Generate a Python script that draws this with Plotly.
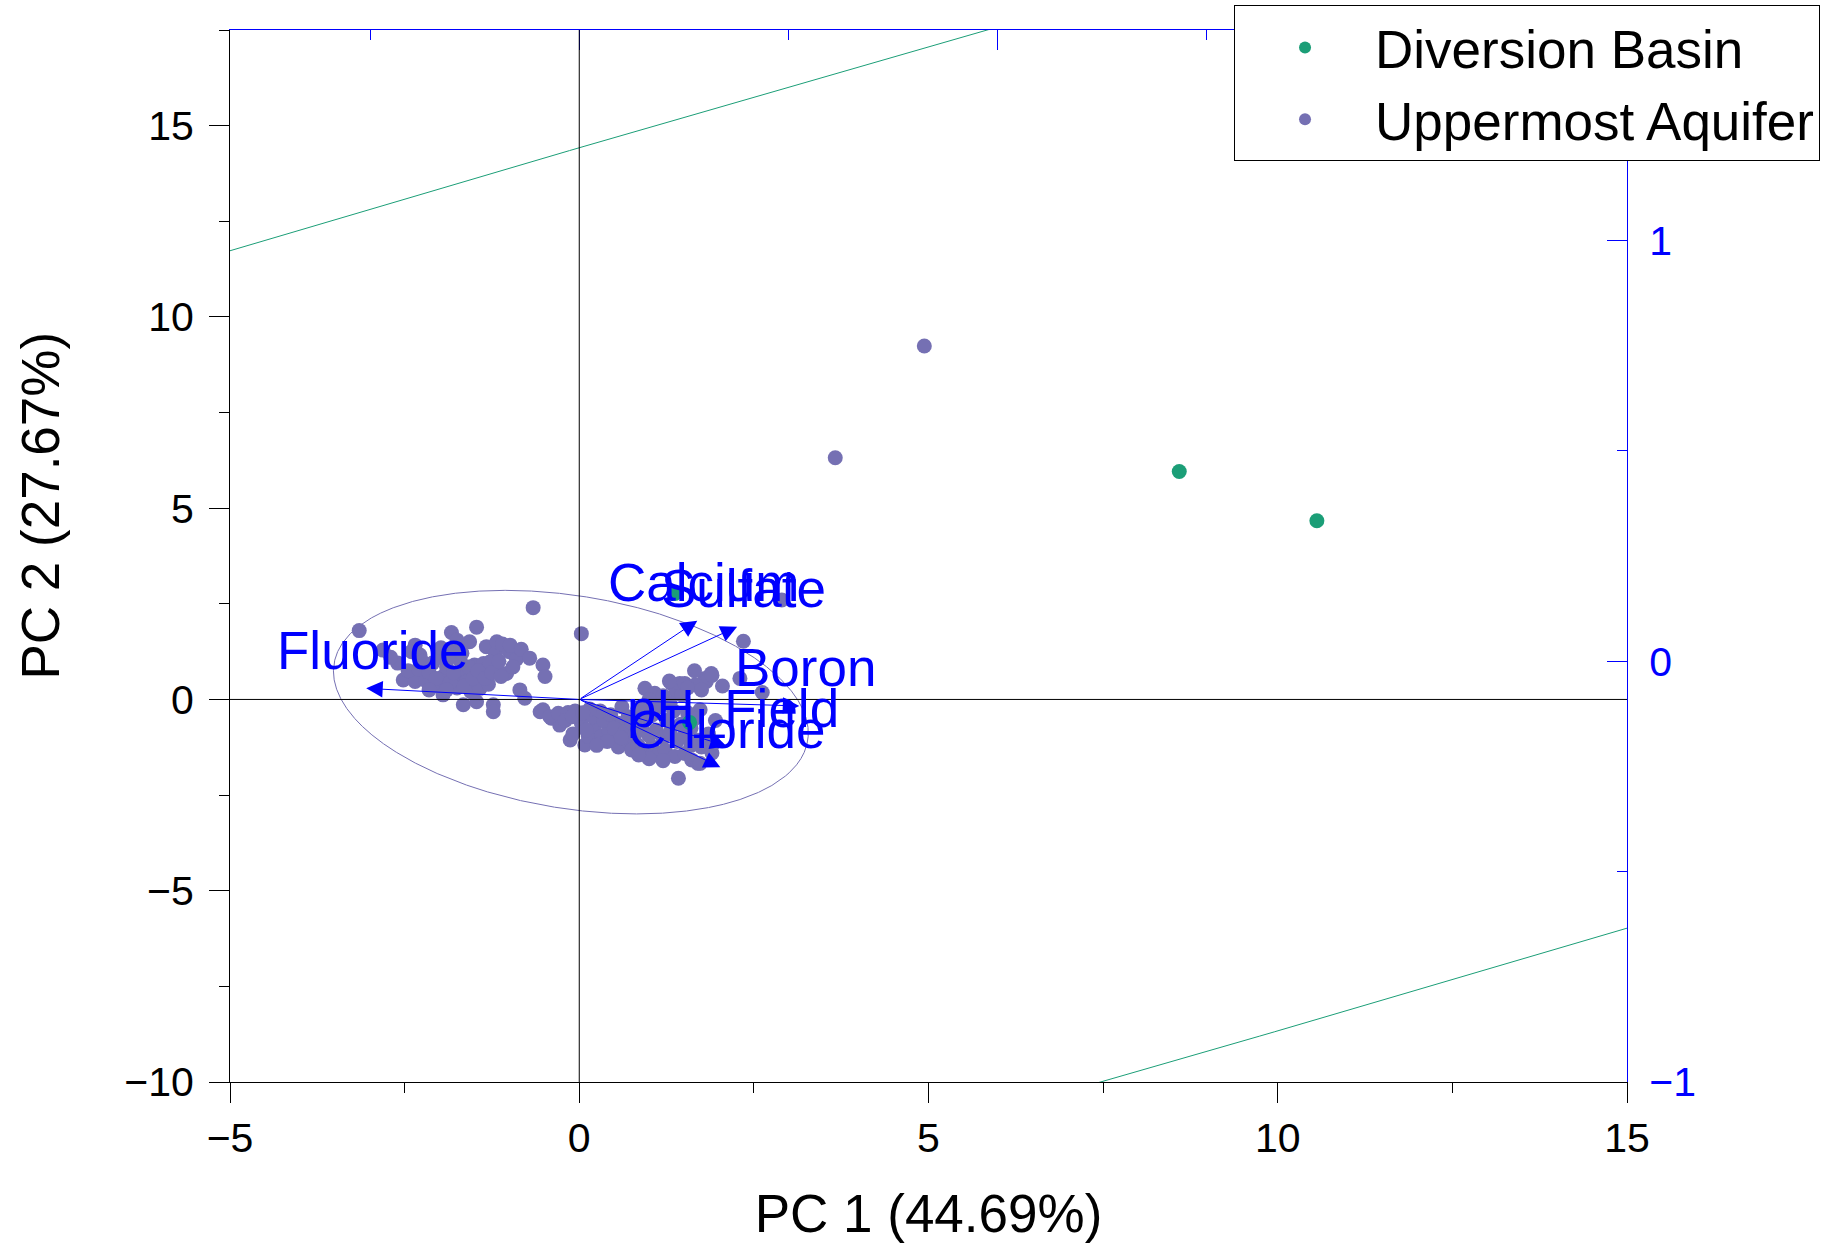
import numpy as np
import plotly.graph_objects as go

# --- scores (PC1, PC2) per group ---
diversion_pc1 = [1.37, 1.58, 8.59, 10.56]
diversion_pc2 = [2.77, -0.60, 5.96, 4.67]

uppermost_pc1 = [
    4.94, 3.665, 2.90, 2.35, 0.03, -0.66, -3.15, 1.42,
    # fluoride side
    -2.81, -2.52, -2.35, -2.35, -2.28, -2.20, -2.10, -2.04, -2.00, -1.95,
    -1.95, -1.90, -1.83, -1.80, -1.76, -1.75, -1.70, -1.68, -1.66, -1.62,
    -1.61, -1.57, -1.55, -1.50, -1.47, -1.47, -1.42, -1.40, -1.37, -1.33,
    -1.30, -1.23, -1.23, -1.20, -1.18, -1.18, -1.10, -1.04, -1.00, -0.99,
    -0.90, -0.85, -0.83, -0.78, -0.71, -0.52, -0.52, -0.49, -0.40, -0.28,
    -2.60, -2.45, -2.30, -2.25, -2.15, -2.05, -1.85, -1.80, -1.88, -1.65,
    -1.58, -1.52, -1.45, -1.35, -1.28, -1.25, -1.15, -1.12, -0.95, -2.70,
    -2.40, -1.98, -1.75, -2.15, -1.90,
    # central band
    -0.56, -0.42, -0.30, -0.16, -0.06, -0.13, -0.09, 0.03, 0.08, 0.13,
    0.22, 0.32, 0.42, 0.51, 0.56, 0.56, 0.61, 0.70, 0.70, 0.75,
    0.84, 0.84, 0.94, 0.94, 0.94, 1.04, 1.08, 1.13, 1.23, 1.32,
    1.39, 1.37, 1.51, 1.61, 1.70, 1.75, 1.80, 1.89, 1.82, 1.44,
    1.47, 1.73, 1.54, 1.68, 1.75, 1.73, 1.92, 1.51, 1.66, 1.75,
    2.30, 2.62, 1.90, 1.29,
    0.20, 0.35, 0.45, 0.30, 0.15, 0.50, 0.65, 0.80, 0.90, 1.00,
    1.10, 1.20, 1.30, 1.40, 1.50, 1.60, 1.25, 1.05, 1.15, 1.35,
    1.55, 0.75, 0.60, 0.40, 0.25, 1.00, 1.20, 0.85, 1.60, 1.45,
    1.65, 1.85, 1.90, 0.10, -0.20, -0.10, 0.05, 1.95, 2.05, 1.55,
    1.65, 1.20, 1.00, 0.95, 1.30,
]
uppermost_pc2 = [
    9.24, 6.32, 2.60, 1.52, 1.72, 2.40, 1.80, -2.06,
    # fluoride side
    1.29, 0.51, 0.47, 1.42, 1.16, 0.50, 0.95, 0.38, 1.10, 0.12,
    0.60, 0.85, 1.75, 1.30, 0.60, 0.30, 1.00, 1.21, -0.14, 0.75,
    0.47, 1.51, 0.20, 0.90, 1.89, -0.06, 0.29, 0.60, 0.94, 1.38,
    0.40, -0.14, -0.32, 1.20, 1.51, 0.81, 1.45, 0.68, 1.25, 1.42,
    1.05, 0.25, 1.31, 0.03, 1.08, 0.90, -0.27, 0.60, -0.49, -0.67,
    0.95, 0.75, 0.80, 1.00, 0.70, 0.55, 0.45, 0.70, 1.05, 0.35,
    0.85, 0.55, 0.75, 0.55, 0.98, 0.70, 1.00, 0.60, 0.85, 1.10,
    1.25, 1.35, 1.55, 0.25, 0.25,
    # central band
    -0.32, -0.45, -0.36, -0.34, -0.30, -1.06, -0.90, -0.62, -1.19, -0.97,
    -0.71, -0.97, -0.80, -0.97, -1.24, -0.62, -0.19, -1.10, -0.45, -1.32,
    -1.19, -0.23, -1.36, -0.54, 0.29, -1.23, 0.16, -1.45, -1.32, 0.42,
    0.20, -1.49, -1.41, -1.58, -1.67, -1.23, 0.55, 0.68, 0.47, 0.42,
    0.12, -0.27, -0.97, -1.06, -1.24, -1.67, -1.15, 0.42, 0.38, 0.25,
    0.55, 0.18, 0.63, 0.48,
    -0.45, -0.55, -0.40, -0.30, -0.25, -0.75, -0.85, -0.90, -0.75, -0.95,
    -0.80, -1.00, -0.85, -1.10, -0.95, -1.20, -0.55, -0.40, -0.20, -0.30,
    -0.35, -0.60, -1.00, -1.10, -1.20, -1.55, -1.60, -1.45, -0.75, -0.65,
    -0.50, -0.90, -1.40, -0.80, -0.55, -0.45, -0.35, -0.55, 0.35, 0.30,
    0.75, 0.10, 0.00, -0.15, -0.10,
]

# --- variable loadings (arrow tips, score units) ---
variables = ["Fluoride", "Calcium", "Sulfate", "Boron", "pH_Field", "Chloride"]
load_pc1 = [-3.05, 1.69, 2.26, 3.15, 2.11, 2.02]
load_pc2 = [0.29, 2.06, 1.90, -0.17, -1.22, -1.77]

# --- normal-theory ellipses: centre, semi-axes, rotation (deg) ---
ell_uppermost = dict(cx=-0.12, cy=-0.07, a=3.63, b=2.63, angle=-30.6)
ell_diversion = dict(cx=5.53, cy=3.16, a=150.0, b=12.54, angle=27.95)

GREEN = "#1B9E77"
PURPLE = "#7570B3"
BLUE = "#0000FF"
FONT = "Liberation Sans, Arial, sans-serif"


def ellipse_xy(cx, cy, a, b, angle, n=4001):
    t = np.linspace(0, 2 * np.pi, n)
    th = np.deg2rad(angle)
    x = cx + a * np.cos(t) * np.cos(th) - b * np.sin(t) * np.sin(th)
    y = cy + a * np.cos(t) * np.sin(th) + b * np.sin(t) * np.cos(th)
    return x, y


fig = go.Figure()

for ell, col in ((ell_diversion, GREEN), (ell_uppermost, PURPLE)):
    ex, ey = ellipse_xy(**ell)
    fig.add_trace(go.Scatter(x=ex, y=ey, mode="lines",
                             line=dict(color=col, width=1),
                             showlegend=False, hoverinfo="skip"))

fig.add_trace(go.Scatter(x=uppermost_pc1, y=uppermost_pc2, mode="markers",
                         name="Uppermost Aquifer", legendrank=2,
                         marker=dict(color=PURPLE, size=15, line=dict(width=0))))
fig.add_trace(go.Scatter(x=diversion_pc1, y=diversion_pc2, mode="markers",
                         name="Diversion Basin", legendrank=1,
                         marker=dict(color=GREEN, size=15, line=dict(width=0))))

# secondary (loading-scale) axes: top and right
fig.add_trace(go.Scatter(x=[None], y=[None], xaxis="x2", yaxis="y2",
                         showlegend=False, hoverinfo="skip"))

# loading arrows and their labels
for name, lx, ly in zip(variables, load_pc1, load_pc2):
    fig.add_annotation(x=lx, y=ly, ax=0, ay=0, axref="x", ayref="y",
                       xref="x", yref="y", text="", showarrow=True,
                       arrowhead=2, arrowsize=3.3, arrowwidth=1,
                       arrowcolor=BLUE, standoff=0, startstandoff=0)
for name, lx, ly in zip(variables, load_pc1, load_pc2):
    fig.add_annotation(x=lx, y=ly, xref="x", yref="y", text=name,
                       showarrow=False, xshift=6, yshift=38,
                       font=dict(family=FONT, size=53, color=BLUE))

# zero reference lines
fig.add_shape(type="line", xref="x", yref="paper", x0=0, x1=0, y0=0, y1=1,
              line=dict(color="black", width=1), layer="above")
fig.add_shape(type="line", xref="paper", yref="y", x0=0, x1=1, y0=0, y1=0,
              line=dict(color="black", width=1), layer="above")

# y-axis title
fig.add_annotation(text="PC 2 (27.67%)", xref="paper", yref="paper",
                   x=-0.136, y=0.548, textangle=-90, showarrow=False,
                   xanchor="center", yanchor="middle",
                   font=dict(family=FONT, size=53, color="black"))

tickfont = dict(family=FONT, size=41, color="black")

fig.update_layout(
    width=1842, height=1244,
    margin=dict(l=230, r=215, t=30, b=162, autoexpand=False),
    paper_bgcolor="white", plot_bgcolor="white",
    font=dict(family=FONT),
    xaxis=dict(range=[-5, 15], dtick=5, tick0=0, showgrid=False, zeroline=False,
               showline=True, linecolor="black", linewidth=1,
               ticks="outside", ticklen=20, tickwidth=1, tickcolor="black",
               minor=dict(dtick=2.5, tick0=0, ticks="outside", ticklen=10,
                          tickcolor="black", tickwidth=1, showgrid=False),
               tickfont=tickfont, ticklabelstandoff=0,
               title=dict(text="PC 1 (44.69%)", standoff=34,
                          font=dict(family=FONT, size=53, color="black"))),
    yaxis=dict(range=[-10, 17.5], dtick=5, tick0=0, showgrid=False, zeroline=False,
               showline=True, linecolor="black", linewidth=1,
               ticks="outside", ticklen=20, tickwidth=1, tickcolor="black",
               minor=dict(dtick=2.5, tick0=0, ticks="outside", ticklen=10,
                          tickcolor="black", tickwidth=1, showgrid=False),
               tickfont=tickfont, ticklabelstandoff=7),
    xaxis2=dict(overlaying="x", side="top", range=[-0.837, 2.505],
                dtick=1, tick0=0, showgrid=False, zeroline=False,
                showline=True, linecolor=BLUE, linewidth=1,
                ticks="inside", ticklen=20, tickcolor=BLUE, tickwidth=1,
                minor=dict(dtick=0.5, tick0=0, ticks="inside", ticklen=10,
                           tickcolor=BLUE, tickwidth=1, showgrid=False),
                showticklabels=False),
    yaxis2=dict(overlaying="y", side="right", anchor="x", range=[-1, 1.5],
                dtick=1, tick0=0, showgrid=False, zeroline=False,
                showline=True, linecolor=BLUE, linewidth=1,
                ticks="inside", ticklen=20, tickcolor=BLUE, tickwidth=1,
                minor=dict(dtick=0.5, tick0=0, ticks="inside", ticklen=10,
                           tickcolor=BLUE, tickwidth=1, showgrid=False),
                tickfont=dict(family=FONT, size=41, color=BLUE),
                ticklabelstandoff=13),
    legend=dict(x=0.7187, y=1.0233, xanchor="left", yanchor="top",
                bgcolor="white", bordercolor="black", borderwidth=1,
                font=dict(family=FONT, size=53, color="black"),
                itemsizing="constant", itemwidth=130, tracegroupgap=0),
    showlegend=True,
)

fig.write_html("out.html")
